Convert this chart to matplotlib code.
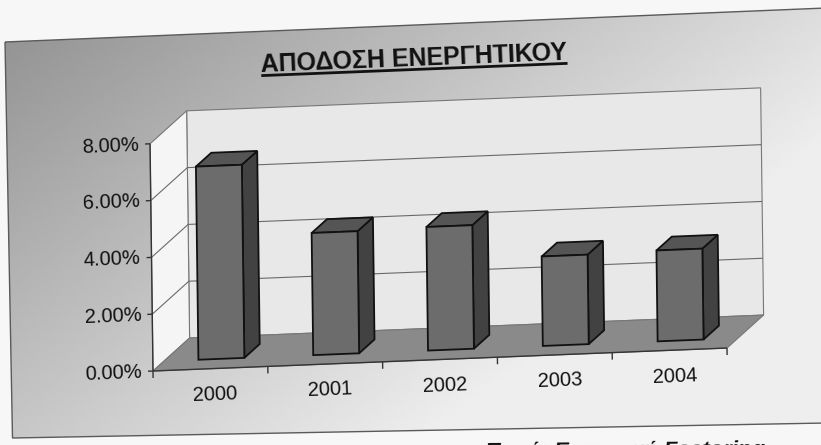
import numpy as np
import matplotlib
matplotlib.use("Agg")
import matplotlib.pyplot as plt
from matplotlib.patches import Polygon
from matplotlib.transforms import Affine2D

plt.rcParams["font.family"] = ["Liberation Sans", "DejaVu Sans"]

# ---- data -------------------------------------------------------------
years = ["2000", "2001", "2002", "2003", "2004"]
returns_pct = [6.80, 4.30, 4.35, 3.15, 3.20]
y_ticks = [0, 2, 4, 6, 8]
y_tick_labels = ["0.00%", "2.00%", "4.00%", "6.00%", "8.00%"]
title_text = "ΑΠΟΔΟΣΗ ΕΝΕΡΓΗΤΙΚΟΥ"
note_text = "Πηγή: Εμπορική Factoring"

# ---- figure -----------------------------------------------------------
W, H = 821, 445
fig = plt.figure(figsize=(W / 100, H / 100), dpi=100)
fig.patch.set_facecolor("#f7f7f7")

# background layer in pixel coordinates (y downwards)
bg = fig.add_axes([0, 0, 1, 1], zorder=0)
bg.set_xlim(0, W)
bg.set_ylim(H, 0)
bg.axis("off")

gx, gy = np.meshgrid(np.linspace(0, 1, 300), np.linspace(0, 1, 160))
shade = np.clip(0.56 + 0.30 * gx + 0.22 * gy, 0, 0.93)
grad = bg.imshow(shade, cmap="gray", vmin=0, vmax=1, extent=(0, W, H, 0),
                 aspect="auto", interpolation="bilinear")
frame = Polygon([(5, 42), (W + 5, 8), (W + 5, 423), (12.5, 438)], closed=True,
                facecolor="none", edgecolor="#5a5a5a", lw=1.0)
bg.add_patch(frame)
grad.set_clip_path(frame)

# ---- chart axes ---------------------------------------------------------
x0, y0 = 153, H - 371          # front-left corner of the floor (pixels)
px_cat, px_pct = 114.8, 28.4   # pixels per category / per percent
ax = fig.add_axes([x0 / W, y0 / H, 5 * px_cat / W, 8 * px_pct / H], zorder=1)
ax.set_xlim(-0.5, 4.5)
ax.set_ylim(0, 8)
ax.axis("off")

# slight slant of the whole chart
slant = (Affine2D().translate(-x0, -y0)
         + Affine2D(np.array([[1.0, -0.013, 0.0], [0.04, 1.0, 0.0], [0, 0, 1]]))
         + Affine2D().translate(x0, y0))
T = ax.transData + slant
rot = np.degrees(np.arctan(0.04))

# depth of the 3-D box expressed in data units
ddx, ddy = 37.0 / px_cat, 31.5 / px_pct


def P(x, v, f):
    return (x + f * ddx, v + f * ddy)


def face(pts, fc, ec="#777777", lw=0.8, z=1):
    ax.add_patch(Polygon(pts, closed=True, facecolor=fc, edgecolor=ec, lw=lw,
                         transform=T, clip_on=False, zorder=z, joinstyle="miter"))


def seg(pts, color="#6a6a6a", lw=0.8, z=2):
    xs, ys = zip(*pts)
    ax.plot(xs, ys, color=color, lw=lw, transform=T, clip_on=False, zorder=z,
            solid_capstyle="butt")


x_lo, x_hi = -0.5, 4.5
ymax = y_ticks[-1]

# walls and floor
face([P(x_lo, 0, 1), P(x_hi, 0, 1), P(x_hi, ymax, 1), P(x_lo, ymax, 1)], "#e8e8e8")
face([P(x_lo, 0, 0), P(x_lo, 0, 1), P(x_lo, ymax, 1), P(x_lo, ymax, 0)], "#f5f5f5")
face([P(x_lo, 0, 0), P(x_hi, 0, 0), P(x_hi, 0, 1), P(x_lo, 0, 1)], "#8a8a8a")

# gridlines along the left and back walls
for v in y_ticks[1:-1]:
    seg([P(x_lo, v, 0), P(x_lo, v, 1), P(x_hi, v, 1)])

# value axis with tick marks
seg([P(x_lo, 0, 0), P(x_lo, ymax, 0)], color="#333333", lw=1.0, z=3)
for v, lab in zip(y_ticks, y_tick_labels):
    seg([P(x_lo, v, 0), P(x_lo - 5 / px_cat, v, 0)], color="#333333", lw=1.0, z=3)
    ax.annotate(lab, xy=P(x_lo, v, 0), xycoords=T, xytext=(-11, -1),
                textcoords="offset pixels", ha="right", va="center",
                fontsize=14.5, rotation=rot, rotation_mode="anchor", color="#111111")

# category axis with tick marks between categories
seg([P(x_lo, 0, 0), P(x_hi, 0, 0)], color="#333333", lw=1.0, z=3)
for k in range(len(years) + 1):
    xb = x_lo + k
    seg([P(xb, 0, 0), P(xb, -7 / px_pct, 0)], color="#333333", lw=1.0, z=3)

for i, yr in enumerate(years):
    ax.annotate(yr, xy=P(i, 0, 0), xycoords=T, xytext=(5, -26),
                textcoords="offset pixels", ha="center", va="center",
                fontsize=14.5, rotation=rot, rotation_mode="anchor", color="#111111")

# 3-D bars
hw, f0, f1 = 0.2, 0.30, 0.72
for i, v in enumerate(returns_pct):
    face([P(i + hw, 0, f0), P(i + hw, 0, f1), P(i + hw, v, f1), P(i + hw, v, f0)],
         "#424242", ec="#111111", lw=1.3, z=4)
    face([P(i - hw, v, f0), P(i + hw, v, f0), P(i + hw, v, f1), P(i - hw, v, f1)],
         "#555555", ec="#111111", lw=1.3, z=4)
    face([P(i - hw, 0, f0), P(i + hw, 0, f0), P(i + hw, v, f0), P(i - hw, v, f0)],
         "#6c6c6c", ec="#111111", lw=1.3, z=5)

# ---- title with underline ---------------------------------------------
tx, ty = 414, 59
title = bg.text(tx, ty, title_text, fontsize=18, fontweight="bold",
                ha="center", va="center", color="#111111")
fig.canvas.draw()
tw = title.get_window_extent().width
title.set_rotation(rot)
title.set_rotation_mode("anchor")
th = np.radians(rot)
ux, uy = np.cos(th), -np.sin(th)
nx, ny = np.sin(th), np.cos(th)
off = 10.5
bg.plot([tx - tw / 2 * ux + off * nx, tx + tw / 2 * ux + off * nx],
        [ty - tw / 2 * uy + off * ny, ty + tw / 2 * uy + off * ny],
        color="#111111", lw=2.0, solid_capstyle="butt")

# source line at the foot of the page (runs off the lower edge)
bg.text(765, 440.5, note_text, fontsize=16, fontweight="bold", fontstyle="italic",
        ha="right", va="top", rotation=0.4, rotation_mode="anchor", color="#111111")

fig.savefig("out.png", dpi=100, facecolor=fig.get_facecolor())
